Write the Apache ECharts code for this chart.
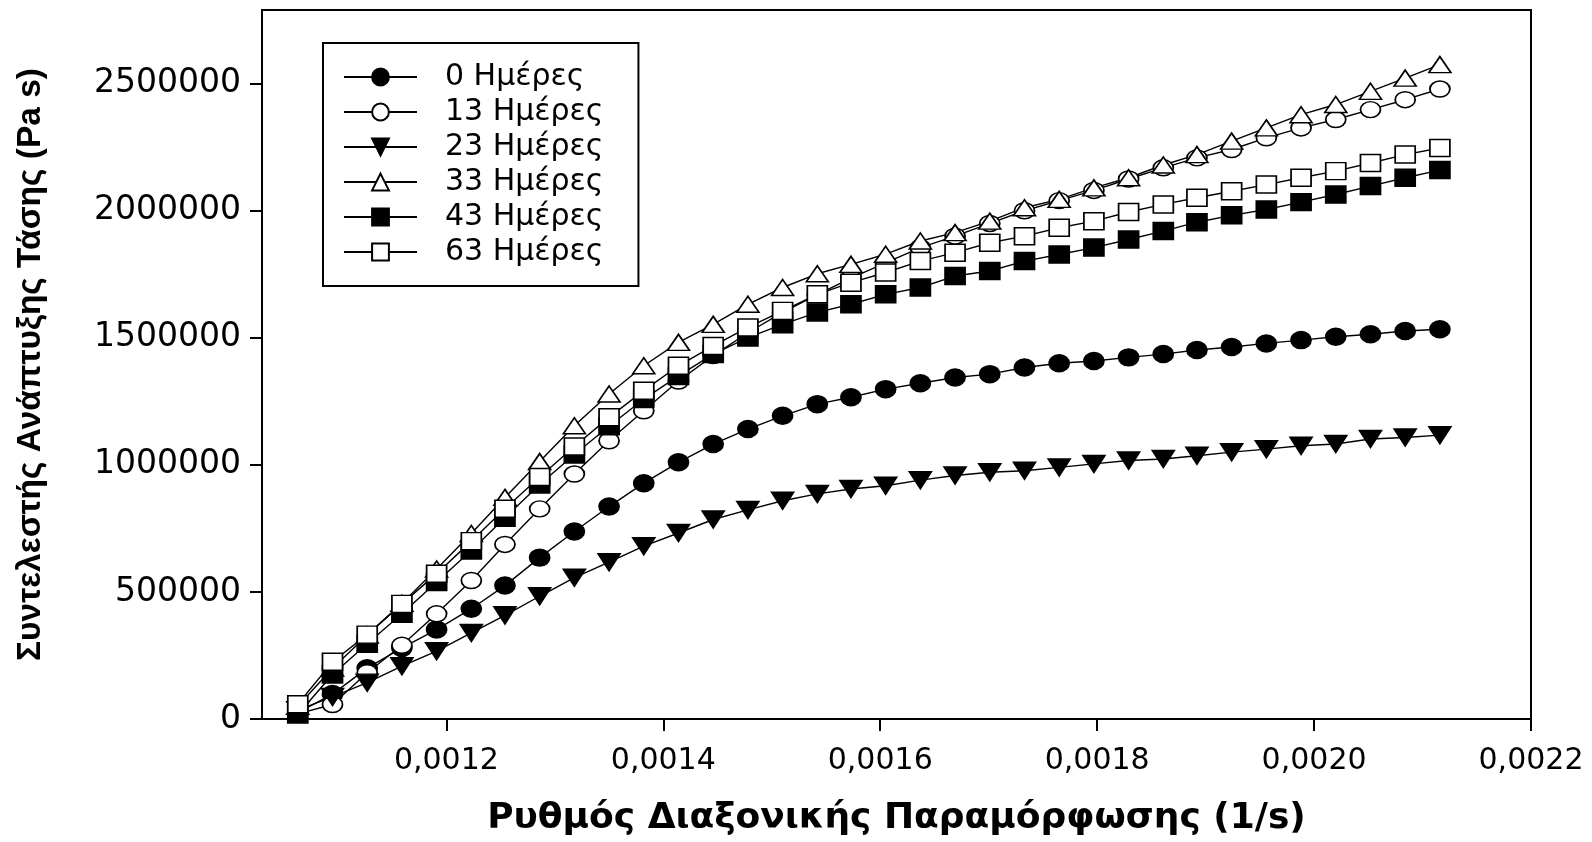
<!DOCTYPE html>
<html>
<head>
<meta charset="utf-8">
<title>Συντελεστής Ανάπτυξης Τάσης</title>
<script src="https://cdn.jsdelivr.net/npm/echarts@6/dist/echarts.min.js"></script>
<style>
  html, body { margin: 0; padding: 0; background: #fff; }
  #main { width: 1592px; height: 842px; }
</style>
</head>
<body>
<div id="main"></div>
<script>
// ρυθμός παραμόρφωσης (1/s)
var rates = [0.001063, 0.001095, 0.001127, 0.001159, 0.001191, 0.001223, 0.001254, 0.001286, 0.001318, 0.001350,
             0.001382, 0.001414, 0.001446, 0.001478, 0.001510, 0.001542, 0.001573, 0.001605, 0.001637, 0.001669,
             0.001701, 0.001733, 0.001765, 0.001797, 0.001829, 0.001861, 0.001892, 0.001924, 0.001956, 0.001988,
             0.002020, 0.002052, 0.002084, 0.002116];

// τιμές σε Pa s (χιλιάδες)
var d0  = [25, 98, 200, 280, 352, 434, 525, 635, 738, 836, 928, 1010, 1082, 1141, 1193, 1239, 1266, 1298, 1321, 1344,
           1357, 1383, 1400, 1409, 1423, 1436, 1452, 1464, 1478, 1491, 1504, 1514, 1527, 1534];
var d13 = [20, 57, 182, 290, 414, 545, 687, 827, 964, 1095, 1213, 1330, 1430, 1520, 1600, 1670, 1735, 1795, 1855, 1900,
           1950, 2000, 2040, 2080, 2125, 2169, 2208, 2241, 2287, 2326, 2359, 2398, 2437, 2479];
var d23 = [35, 87, 143, 208, 267, 339, 408, 483, 556, 617, 680, 732, 785, 823, 859, 886, 905, 918, 940, 958,
           971, 977, 990, 1004, 1017, 1023, 1036, 1050, 1062, 1075, 1082, 1102, 1108, 1117];
var d33 = [50, 200, 330, 455, 590, 730, 872, 1013, 1154, 1279, 1390, 1482, 1553, 1632, 1698, 1752, 1789, 1829, 1881, 1914,
           1959, 2012, 2045, 2090, 2130, 2180, 2221, 2274, 2326, 2378, 2418, 2470, 2522, 2575];
var d43 = [18, 175, 296, 414, 539, 663, 792, 923, 1041, 1152, 1259, 1350, 1436, 1501, 1553, 1600, 1632, 1671, 1698, 1743,
           1763, 1802, 1828, 1855, 1887, 1920, 1955, 1982, 2005, 2034, 2064, 2097, 2130, 2160];
var d63 = [58, 225, 332, 453, 572, 700, 827, 952, 1072, 1187, 1292, 1390, 1468, 1541, 1606, 1671, 1717, 1757, 1802, 1835,
           1874, 1900, 1933, 1959, 1995, 2025, 2051, 2077, 2103, 2130, 2156, 2188, 2221, 2247];

var names = ['0 Ημέρες', '13 Ημέρες', '23 Ημέρες', '33 Ημέρες', '43 Ημέρες', '63 Ημέρες'];
var xTicks = [0.0012, 0.0014, 0.0016, 0.0018, 0.0020, 0.0022];
var yTicks = [0, 500000, 1000000, 1500000, 2000000, 2500000];

var downTri = 'path://M0,0 L20,0 L10,16 Z';

function pairs(vals) {
    var out = [];
    for (var i = 0; i < rates.length; i++) {
        out.push([rates[i], vals[i] * 1000]);
    }
    return out;
}

function mkSeries(name, vals, symbol, size, filled) {
    return {
        name: name,
        type: 'line',
        data: pairs(vals),
        symbol: symbol,
        symbolSize: size,
        showAllSymbol: true,
        lineStyle: { color: '#000', width: 1.4 },
        itemStyle: { color: filled ? '#000' : '#fff', borderColor: '#000', borderWidth: 1.6 },
        emphasis: { disabled: true },
        z: 3
    };
}

var myChart = echarts.init(document.getElementById('main'));
var tickFont = 'DejaVu Sans';

var option = {
    animation: false,
    backgroundColor: '#fff',
    grid: {
        left: 262, right: 61, top: 10, bottom: 122,
        show: true, borderColor: '#000', borderWidth: 2, backgroundColor: 'transparent'
    },
    legend: {
        orient: 'vertical',
        left: 323, top: 43,
        padding: [17, 35, 17, 20],
        borderColor: '#000', borderWidth: 2, backgroundColor: '#fff',
        itemWidth: 73, itemHeight: 21, itemGap: 1,
        data: names,
        textStyle: { fontFamily: tickFont, fontSize: 30, color: '#000', lineHeight: 34, padding: [0, 0, 0, 23] }
    },
    xAxis: {
        type: 'value',
        min: 0.00103, max: 0.0022,
        name: 'Ρυθμός Διαξονικής Παραμόρφωσης (1/s)',
        nameLocation: 'middle',
        nameGap: 82,
        nameTextStyle: { fontFamily: 'DejaVu Sans', fontWeight: 'bold', fontSize: 36, color: '#000' },
        axisLine: { lineStyle: { color: '#000', width: 2 } },
        axisTick: { show: true, length: 12, lineStyle: { color: '#000', width: 2 }, customValues: xTicks },
        axisLabel: {
            customValues: xTicks,
            margin: 27,
            fontFamily: tickFont, fontSize: 30, color: '#000',
            formatter: function (v) { return v.toFixed(4).replace('.', ','); }
        },
        splitLine: { show: false }
    },
    yAxis: {
        type: 'value',
        min: 0, max: 2790000,
        name: 'Συντελεστής Ανάπτυξης Τάσης (Pa s)',
        nameLocation: 'middle',
        nameGap: 214,
        nameTextStyle: { fontFamily: 'Liberation Sans', fontWeight: 'bold', fontSize: 33.5, color: '#000' },
        axisLine: { lineStyle: { color: '#000', width: 2 } },
        axisTick: { show: true, length: 12, lineStyle: { color: '#000', width: 2 }, customValues: yTicks },
        axisLabel: {
            customValues: yTicks,
            margin: 21,
            fontFamily: tickFont, fontSize: 33, color: '#000',
            formatter: function (v) { return String(v); }
        },
        splitLine: { show: false }
    },
    series: [
        mkSeries(names[0], d0, 'circle', [20, 17], true),
        mkSeries(names[1], d13, 'circle', [20, 16], false),
        mkSeries(names[2], d23, downTri, [22, 17], true),
        mkSeries(names[3], d33, 'triangle', [22, 16], false),
        mkSeries(names[4], d43, 'rect', [20, 17], true),
        mkSeries(names[5], d63, 'rect', [20, 17], false)
    ]
};

myChart.setOption(option);
</script>
</body>
</html>
